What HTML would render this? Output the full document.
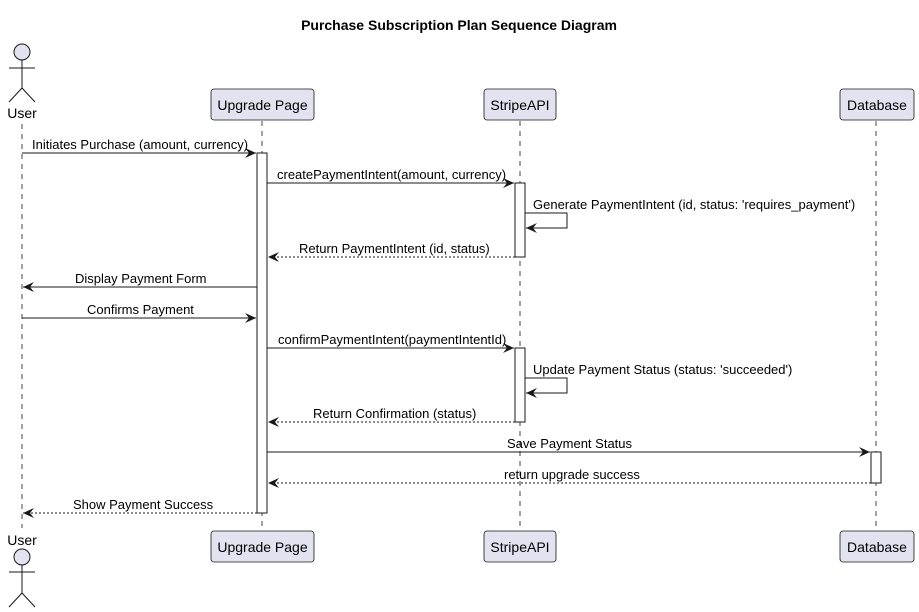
<!DOCTYPE html>
<html><head><meta charset="utf-8"><style>
html,body{margin:0;padding:0;background:#fff;}
svg{display:block;font-family:"Liberation Sans",Arial,sans-serif;}
</style></head><body>
<svg width="919" height="612" viewBox="0 0 919 612" xmlns="http://www.w3.org/2000/svg">
<defs>
<marker id="a" markerWidth="12" markerHeight="10" refX="11" refY="5" orient="auto" markerUnits="userSpaceOnUse">
<path d="M0,0 L11,5 L0,10 L4,5 Z" fill="#181818"/>
</marker>
</defs>
<text x="459" y="30" text-anchor="middle" font-size="14" font-weight="bold" fill="#000">Purchase Subscription Plan Sequence Diagram</text>
<!-- lifelines -->
<g stroke="#181818" stroke-width="0.8" stroke-dasharray="5,5">
<line x1="22" y1="124" x2="22" y2="528"/>
<line x1="262" y1="121" x2="262" y2="531"/>
<line x1="520" y1="121" x2="520" y2="531"/>
<line x1="876" y1="121" x2="876" y2="531"/>
</g>
<!-- actors -->
<g stroke="#181818" stroke-width="1" fill="none">
<circle cx="22" cy="52" r="8" fill="#E2E2F0"/>
<line x1="22" y1="60" x2="22" y2="88"/><line x1="9" y1="68" x2="35" y2="68"/>
<line x1="22" y1="88" x2="9" y2="102"/><line x1="22" y1="88" x2="35" y2="102"/>
<circle cx="22" cy="557" r="8" fill="#E2E2F0"/>
<line x1="22" y1="565" x2="22" y2="593"/><line x1="9" y1="572" x2="35" y2="572"/>
<line x1="22" y1="593" x2="9" y2="607"/><line x1="22" y1="593" x2="35" y2="607"/>
</g>
<g font-size="14" fill="#000" text-anchor="middle">
<text x="22" y="118">User</text>
<text x="22" y="545">User</text>
</g>
<!-- participant boxes -->
<g fill="#E2E2F0" stroke="#181818" stroke-width="0.8">
<rect x="211" y="89" width="103" height="31" rx="3"/>
<rect x="484" y="89" width="72" height="31" rx="3"/>
<rect x="840" y="89" width="74" height="31" rx="3"/>
<rect x="211" y="531" width="103" height="31" rx="3"/>
<rect x="484" y="531" width="72" height="31" rx="3"/>
<rect x="840" y="531" width="74" height="31" rx="3"/>
</g>
<g font-size="14" fill="#000" text-anchor="middle">
<text x="262.5" y="110">Upgrade Page</text>
<text x="520" y="110">StripeAPI</text>
<text x="877" y="110">Database</text>
<text x="262.5" y="552">Upgrade Page</text>
<text x="520" y="552">StripeAPI</text>
<text x="877" y="552">Database</text>
</g>
<!-- activations -->
<g fill="#fff" stroke="#181818" stroke-width="1">
<rect x="257" y="153" width="10" height="360"/>
<rect x="515" y="183" width="10" height="74"/>
<rect x="515" y="348" width="10" height="74"/>
<rect x="871" y="452" width="10" height="31"/>
</g>
<!-- messages -->
<g stroke="#181818" stroke-width="1" fill="none" marker-end="url(#a)">
<line x1="22" y1="153" x2="256" y2="153"/>
<line x1="267" y1="183" x2="514" y2="183"/>
<polyline points="525,213 567,213 567,228 526,228"/>
<line x1="515" y1="257" x2="268" y2="257" stroke-dasharray="2,2"/>
<line x1="257" y1="287" x2="23" y2="287"/>
<line x1="22" y1="318" x2="256" y2="318"/>
<line x1="267" y1="348" x2="514" y2="348"/>
<polyline points="525,378 567,378 567,393 526,393"/>
<line x1="515" y1="422" x2="268" y2="422" stroke-dasharray="2,2"/>
<line x1="267" y1="452" x2="870" y2="452"/>
<line x1="871" y1="483" x2="268" y2="483" stroke-dasharray="2,2"/>
<line x1="257" y1="513" x2="23" y2="513" stroke-dasharray="2,2"/>
</g>
<g font-size="13" fill="#000">
<text x="32" y="149">Initiates Purchase (amount, currency)</text>
<text x="277" y="179">createPaymentIntent(amount, currency)</text>
<text x="533" y="209">Generate PaymentIntent (id, status: 'requires_payment')</text>
<text x="299" y="253">Return PaymentIntent (id, status)</text>
<text x="75" y="283">Display Payment Form</text>
<text x="87" y="314">Confirms Payment</text>
<text x="278" y="344">confirmPaymentIntent(paymentIntentId)</text>
<text x="533" y="374">Update Payment Status (status: 'succeeded')</text>
<text x="313" y="418">Return Confirmation (status)</text>
<text x="507" y="448">Save Payment Status</text>
<text x="504" y="479">return upgrade success</text>
<text x="73" y="509">Show Payment Success</text>
</g>
</svg>
</body></html>
